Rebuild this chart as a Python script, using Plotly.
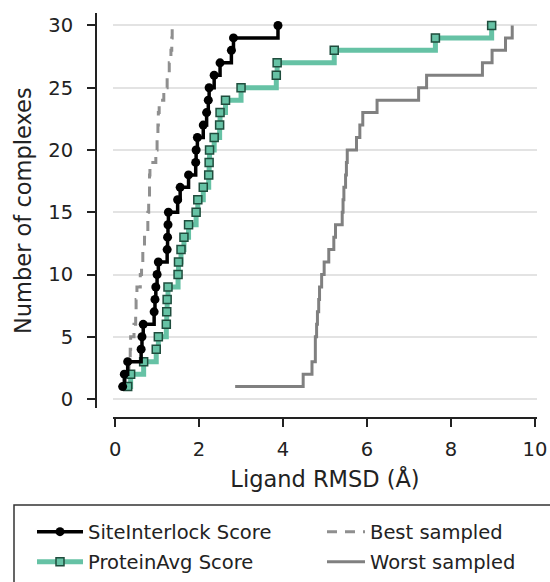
import plotly.graph_objects as go

# Number of complexes (cumulative count) -- y values 1..30
counts = list(range(1, 31))

# Ligand RMSD (Å) sorted per method
site_interlock = [0.18, 0.22, 0.30, 0.62, 0.64, 0.67, 0.93, 0.95, 0.97, 1.00,
                  1.03, 1.24, 1.25, 1.26, 1.27, 1.49, 1.55, 1.75, 1.92, 1.93,
                  1.96, 2.10, 2.18, 2.22, 2.24, 2.36, 2.50, 2.77, 2.82, 3.88]
protein_avg = [0.30, 0.37, 0.68, 0.98, 1.03, 1.22, 1.23, 1.24, 1.26, 1.50,
               1.51, 1.57, 1.64, 1.75, 1.93, 1.97, 2.10, 2.23, 2.24, 2.25,
               2.36, 2.49, 2.50, 2.63, 3.00, 3.84, 3.86, 5.22, 7.63, 8.97]
best_sampled = [0.20, 0.25, 0.33, 0.36, 0.37, 0.45, 0.49, 0.50, 0.52, 0.60,
                0.63, 0.66, 0.70, 0.78, 0.78, 0.80, 0.82, 0.82, 0.83, 0.97,
                1.00, 1.02, 1.03, 1.05, 1.16, 1.24, 1.29, 1.33, 1.35, 1.36]
worst_sampled = [2.86, 4.48, 4.69, 4.77, 4.77, 4.80, 4.82, 4.85, 4.87, 4.92,
                 4.98, 5.09, 5.21, 5.25, 5.41, 5.43, 5.45, 5.49, 5.51, 5.53,
                 5.75, 5.83, 5.90, 6.24, 7.23, 7.42, 8.75, 8.98, 9.30, 9.46]

x_ticks = [0, 2, 4, 6, 8, 10]
y_ticks = [0, 5, 10, 15, 20, 25, 30]

W, H = 550, 582
FONT = "DejaVu Sans"
TXT = "#222222"
LEG_FONT = dict(family=FONT, size=19.5, color=TXT)

fig = go.Figure()

fig.add_trace(go.Scatter(
    x=worst_sampled, y=counts, name="Worst sampled", mode="lines",
    line=dict(shape="hv", color="#808080", width=3), legend="legend4"))
fig.add_trace(go.Scatter(
    x=best_sampled, y=counts, name="Best sampled", mode="lines",
    line=dict(shape="hv", color="#8f8f8f", width=3, dash="10px,8px"), legend="legend2"))
fig.add_trace(go.Scatter(
    x=protein_avg, y=counts, name="ProteinAvg Score", mode="lines+markers",
    line=dict(shape="hv", color="#66c2a5", width=5),
    marker=dict(symbol="square", size=8, color="#66c2a5",
                line=dict(color="#1f4d3d", width=1.5)), legend="legend3"))
fig.add_trace(go.Scatter(
    x=site_interlock, y=counts, name="SiteInterlock Score", mode="lines+markers",
    line=dict(shape="hv", color="black", width=3.5),
    marker=dict(symbol="circle", size=9, color="black"), legend="legend"))


def leg(xpx, ypx, itemwidth):
    return dict(x=xpx / W, y=(H - ypx) / H, xanchor="left", yanchor="middle",
                bgcolor="rgba(0,0,0,0)", borderwidth=0, font=LEG_FONT,
                itemwidth=itemwidth, orientation="v")


fig.update_layout(
    width=W, height=H,
    margin=dict(l=0, r=0, t=0, b=0, autoexpand=False),
    plot_bgcolor="white", paper_bgcolor="white",
    font=dict(family=FONT, color=TXT, size=19.5),
    showlegend=True,
    legend=leg(32, 532, 46),
    legend3=leg(32, 562, 46),
    legend2=leg(322, 532, 38),
    legend4=leg(322, 562, 38),
    shapes=[dict(type="rect", xref="paper", yref="paper",
                 x0=14 / W, x1=2.0, y0=-0.5, y1=(H - 505) / H,
                 line=dict(color="#333333", width=1.5), fillcolor="rgba(0,0,0,0)",
                 layer="below")],
    annotations=[dict(text="Number of complexes", xref="paper", yref="paper",
                      x=23 / W, y=(H - 211) / H, xanchor="center", yanchor="middle",
                      textangle=-90, showarrow=False,
                      font=dict(family=FONT, size=22.5, color=TXT))],
    xaxis=dict(
        domain=[113 / W, 537 / W], range=[-0.05, 10.05],
        anchor="free", position=(H - 418) / H,
        tickvals=x_ticks, ticks="outside", ticklen=8, tickwidth=1.5,
        tickcolor="#222222", showline=True, linecolor="#222222", linewidth=2,
        showgrid=False, zeroline=False, ticklabelstandoff=6,
        tickfont=dict(size=19.5, color=TXT),
        title=dict(text="Ligand RMSD (Å)", font=dict(size=22.5, color=TXT), standoff=10),
    ),
    yaxis=dict(
        domain=[(H - 408) / H, (H - 13) / H], range=[-0.72, 31.0],
        anchor="free", position=96 / W,
        tickvals=y_ticks, ticks="outside", ticklen=8, tickwidth=1.5,
        tickcolor="#222222", showline=True, linecolor="#222222", linewidth=2,
        showgrid=True, gridcolor="#e3e3e3", gridwidth=1.5, zeroline=False,
        ticklabelstandoff=10,
        tickfont=dict(size=19.5, color=TXT),
    ),
)

fig.write_html("out.html")
